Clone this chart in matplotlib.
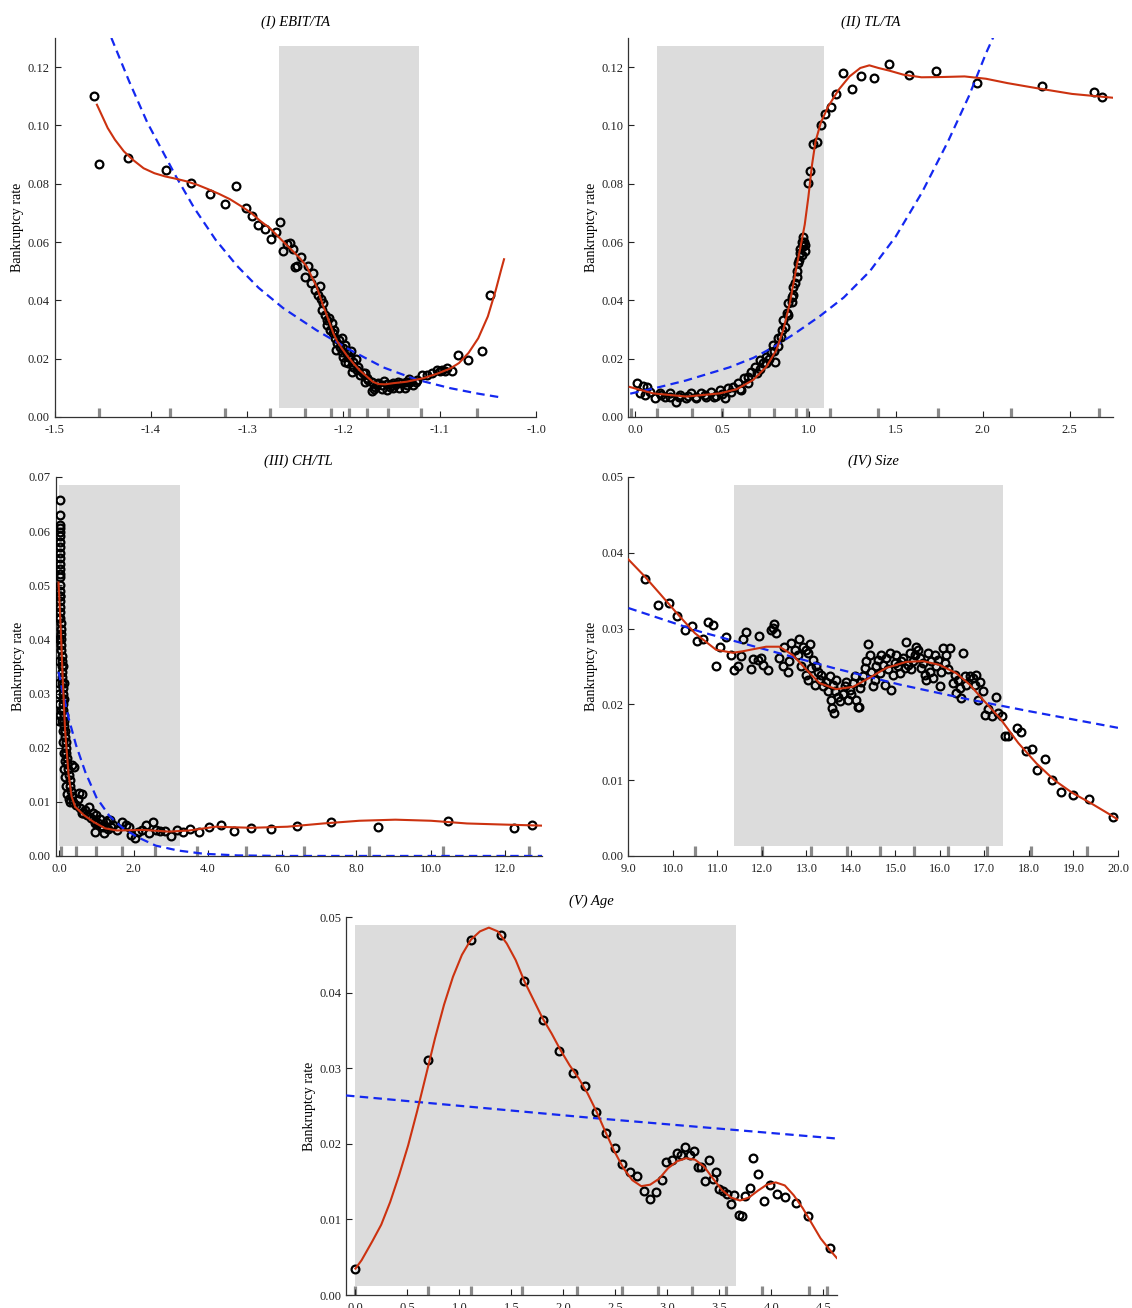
import numpy as np
import matplotlib
matplotlib.use("Agg")
import matplotlib.pyplot as plt

plt.rcParams['font.family'] = ['Liberation Serif', 'DejaVu Serif']
plt.rcParams['axes.unicode_minus'] = False

# ---------------- Panel I : EBIT/TA ----------------
p1_x = [-1.4586, -1.4541, -1.4235, -1.3843, -1.3582, -1.3384, -1.3235, -1.3116, -1.3015,
        -1.2953, -1.2883, -1.2814, -1.2755, -1.2700, -1.2658, -1.2624, -1.2582, -1.2555, -1.2520,
        -1.2444, -1.2503, -1.2478, -1.2364, -1.2319, -1.2399, -1.2340, -1.2243, -1.2295, -1.2260,
        -1.2236, -1.2208, -1.2226, -1.2191, -1.2167, -1.2122, -1.2174, -1.2139, -1.2105, -1.2087,
        -1.2063, -1.2035, -1.1983, -1.2018, -1.2001, -1.1966, -1.1931, -1.1949, -1.1897, -1.1914,
        -1.1862, -1.1828, -1.1776, -1.1741, -1.1706, -1.1672, -1.1637, -1.1603, -1.1551, -1.1516,
        -1.1481, -1.1429, -1.1360, -1.1343, -1.1308, -1.1274, -1.1239, -1.1187, -1.1135, -1.1083,
        -1.1031, -1.0979, -1.0927,
        -1.2150, -1.2100, -1.2050, -1.2000, -1.1950, -1.1900, -1.1850, -1.1800, -1.1750, -1.1700,
        -1.1650, -1.1600, -1.1550, -1.1500, -1.1450, -1.1400, -1.1350, -1.1300, -1.1250, -1.2080,
        -1.2020, -1.1980, -1.1920, -1.1870, -1.1780, -1.1680, -1.1580, -1.1480, -1.1420, -1.1320,
        -1.0996, -1.0940, -1.0877, -1.0806, -1.0705, -1.0560, -1.0474]
p1_y = [0.1102, 0.0869, 0.0889, 0.0848, 0.0801, 0.0765, 0.0729, 0.0793, 0.0718,
        0.0689, 0.0658, 0.0644, 0.0611, 0.0633, 0.0669, 0.0569, 0.0592, 0.0596, 0.0576,
        0.0550, 0.0516, 0.0519, 0.0519, 0.0495, 0.0479, 0.0459, 0.0449, 0.0436, 0.0419,
        0.0404, 0.0390, 0.0367, 0.0350, 0.0333, 0.0321, 0.0316, 0.0298, 0.0287, 0.0270,
        0.0253, 0.0241, 0.0247, 0.0224, 0.0207, 0.0219, 0.0207, 0.0184, 0.0173, 0.0156,
        0.0161, 0.0144, 0.0150, 0.0127, 0.0090, 0.0104, 0.0116, 0.0095, 0.0093, 0.0104,
        0.0116, 0.0121, 0.0099, 0.0110, 0.0121, 0.0110, 0.0127, 0.0144, 0.0144, 0.0150,
        0.0161, 0.0161, 0.0167,
        0.0340, 0.0300, 0.0265, 0.0235, 0.0205, 0.0190, 0.0170, 0.0150, 0.0135, 0.0120,
        0.0112, 0.0108, 0.0112, 0.0110, 0.0112, 0.0115, 0.0120, 0.0125, 0.0120, 0.0230,
        0.0270, 0.0190, 0.0225, 0.0200, 0.0120, 0.0095, 0.0125, 0.0098, 0.0100, 0.0130,
        0.0158, 0.0158, 0.0157, 0.0214, 0.0197, 0.0226, 0.0420]
p1_red_x = [-1.4560, -1.4504, -1.4448, -1.4373, -1.4280, -1.4187, -1.4075, -1.3963, -1.3851,
            -1.3739, -1.3627, -1.3515, -1.3403, -1.3291, -1.3179, -1.3067, -1.2955, -1.2866,
            -1.2762, -1.2624, -1.2520, -1.2451, -1.2381, -1.2330, -1.2278, -1.2243, -1.2208,
            -1.2174, -1.2139, -1.2105, -1.2063, -1.2018, -1.1959, -1.1897, -1.1828, -1.1758,
            -1.1696, -1.1637, -1.1568, -1.1481, -1.1343, -1.1170, -1.1031, -1.0892, -1.0800,
            -1.0700, -1.0600, -1.0500, -1.0418, -1.0362, -1.0332]
p1_red_y = [0.1071, 0.1031, 0.0991, 0.0951, 0.0911, 0.0882, 0.0853, 0.0836, 0.0825,
            0.0817, 0.0808, 0.0796, 0.0781, 0.0765, 0.0747, 0.0724, 0.0699, 0.0673,
            0.0647, 0.0601, 0.0567, 0.0544, 0.0516, 0.0481, 0.0447, 0.0413, 0.0379,
            0.0350, 0.0319, 0.0287, 0.0259, 0.0236, 0.0209, 0.0184, 0.0159, 0.0139,
            0.0121, 0.0113, 0.0112, 0.0116, 0.0121, 0.0133, 0.0148, 0.0166, 0.0185,
            0.0220, 0.0270, 0.0345, 0.0435, 0.0505, 0.0541]
p1_blue_x = [-1.441, -1.4224, -1.4037, -1.3739, -1.3552, -1.3328, -1.3104, -1.2881, -1.2624,
             -1.2277, -1.1931, -1.1585, -1.1239, -1.0893, -1.0600, -1.0343]
p1_blue_y = [0.130, 0.1150, 0.1010, 0.0825, 0.0718, 0.0608, 0.0518, 0.0443, 0.0373,
             0.0297, 0.0230, 0.0170, 0.0128, 0.0099, 0.0080, 0.0066]
p1_rug = [-1.4537, -1.380, -1.323, -1.276, -1.240, -1.213, -1.194, -1.176, -1.154, -1.119, -1.061]
p1_shade = (-1.267, -1.121)

# ---------------- Panel II : TL/TA ----------------
p2_x = [0.0094, 0.0440, 0.0670, 0.0248, 0.0536, 0.0824, 0.1112, 0.1400, 0.1688, 0.1977,
        0.2361, 0.2553, 0.2937, 0.3225, 0.3513, 0.3801, 0.4089, 0.4378, 0.4666, 0.4858,
        0.5146, 0.5338, 0.5626, 0.5914, 0.6106, 0.6241, 0.6490, 0.6683, 0.6875, 0.7163,
        0.7355, 0.7547, 0.7835, 0.8027, 0.7931, 0.8220, 0.8412, 0.8508, 0.8700, 0.8796,
        0.8988, 0.9084, 0.9276, 0.9372, 0.9468, 0.9564, 0.9661, 0.9757,
        0.15, 0.20, 0.25, 0.30, 0.35, 0.40, 0.45, 0.50, 0.55, 0.60, 0.65, 0.70, 0.72, 0.75,
        0.77, 0.80, 0.82, 0.84, 0.86, 0.88, 0.90, 0.91, 0.92, 0.93, 0.94, 0.95, 0.96, 0.97,
        0.965, 0.975,
        0.992, 1.008, 1.025, 1.045, 1.066, 1.093, 1.126, 1.157, 1.198, 1.246, 1.300, 1.372,
        1.459, 1.574, 1.733, 1.965, 2.339, 2.643, 2.688]
p2_y = [0.0116, 0.0107, 0.0104, 0.0081, 0.0076, 0.0084, 0.0064, 0.0081, 0.0070, 0.0081,
        0.0053, 0.0076, 0.0064, 0.0081, 0.0070, 0.0081, 0.0070, 0.0087, 0.0072, 0.0093,
        0.0064, 0.0098, 0.0104, 0.0116, 0.0093, 0.0133, 0.0138, 0.0156, 0.0173, 0.0196,
        0.0184, 0.0207, 0.0224, 0.0190, 0.0247, 0.0270, 0.0298, 0.0333, 0.0356, 0.0390,
        0.0413, 0.0447, 0.0481, 0.0527, 0.0561, 0.0601, 0.0618, 0.0590,
        0.0075, 0.0070, 0.0068, 0.0072, 0.0066, 0.0075, 0.0070, 0.0078, 0.0085, 0.0095,
        0.0115, 0.0150, 0.0165, 0.0185, 0.0200, 0.0225, 0.0245, 0.0275, 0.0310, 0.0350,
        0.0395, 0.0420, 0.0460, 0.0500, 0.0540, 0.0575, 0.0555, 0.0600, 0.0585, 0.0570,
        0.0804, 0.0842, 0.0937, 0.0942, 0.1001, 0.1038, 0.1062, 0.1108, 0.1181, 0.1126,
        0.1170, 0.1162, 0.1212, 0.1174, 0.1187, 0.1144, 0.1135, 0.1113, 0.1097]
p2_red_x = [-0.033, 0.101, 0.294, 0.486, 0.582, 0.678, 0.755, 0.812, 0.851, 0.889, 0.928,
            0.956, 0.975, 0.996, 1.017, 1.037, 1.068, 1.110, 1.171, 1.233, 1.295, 1.347,
            1.399, 1.461, 1.543, 1.647, 1.771, 1.895, 2.019, 2.143, 2.308, 2.514, 2.748]
p2_red_y = [0.0103, 0.0081, 0.0070, 0.0081, 0.0095, 0.0127, 0.0173, 0.0230, 0.0298, 0.0390,
            0.0516, 0.0600, 0.0660, 0.0755, 0.0865, 0.0945, 0.1010, 0.1065, 0.1123, 0.1168,
            0.1197, 0.1206, 0.1197, 0.1188, 0.1174, 0.1165, 0.1166, 0.1168, 0.1160, 0.1145,
            0.1128, 0.1108, 0.1095]
p2_blue_x = [-0.03, 0.12, 0.29, 0.54, 0.68, 0.79, 0.91, 1.06, 1.20, 1.35, 1.50, 1.65, 1.80,
             1.92, 2.02, 2.15]
p2_blue_y = [0.0080, 0.0100, 0.0125, 0.0170, 0.0203, 0.0238, 0.0283, 0.0345, 0.0410, 0.0500,
             0.0620, 0.0770, 0.0945, 0.1100, 0.1249, 0.1420]
p2_rug = [-0.023, 0.124, 0.326, 0.50, 0.655, 0.797, 0.926, 0.986, 1.122, 1.395, 1.742, 2.165, 2.669]
p2_shade = (0.124, 1.087)

# ---------------- Panel III : CH/TL ----------------
p3_x = [0.01, 0.01, 0.01, 0.01, 0.01, 0.01, 0.01, 0.01, 0.01, 0.01, 0.01, 0.01, 0.01,
        0.02, 0.02, 0.02, 0.02, 0.03, 0.03, 0.03, 0.04, 0.04, 0.04, 0.05, 0.05, 0.05, 0.06,
        0.06, 0.07, 0.07, 0.08, 0.08, 0.09, 0.09, 0.10, 0.11, 0.11, 0.12, 0.13, 0.14, 0.15,
        0.16, 0.17, 0.18, 0.19, 0.21, 0.22, 0.24, 0.26, 0.28, 0.30, 0.32, 0.35, 0.38,
        -0.02, -0.01, 0.0, 0.0, -0.02, 0.0, 0.02, 0.03, 0.0, 0.01,
        0.10, 0.12, 0.13, 0.05, 0.07, 0.09, 0.11, 0.13, 0.15, 0.336, 0.40, 0.12, 0.15, 0.18,
        0.22, 0.25, 0.28,
        0.45, 0.50, 0.543, 0.55, 0.60, 0.62, 0.65, 0.70, 0.75, 0.80, 0.85, 0.90, 0.95, 0.965,
        1.00, 1.05, 1.10, 1.15, 1.19, 1.25, 1.30, 1.37, 1.45,
        0.968, 1.209, 1.306, 1.403, 1.548, 1.693, 1.790, 1.867, 1.935, 2.032, 2.109, 2.225,
        2.322, 2.419, 2.516, 2.612, 2.709, 2.854, 3.000, 3.164, 3.338,
        3.53, 3.77, 4.03, 4.35, 4.71, 5.16, 5.71, 6.40, 7.32, 8.59, 10.47, 12.24, 12.72]
p3_y = [0.0658, 0.0630, 0.0612, 0.0605, 0.0598, 0.0590, 0.0580, 0.0570, 0.0560, 0.0550,
        0.0540, 0.0530, 0.0515, 0.0500, 0.0490, 0.0480, 0.0470, 0.0460, 0.0450, 0.0440,
        0.0430, 0.0420, 0.0410, 0.0400, 0.0390, 0.0380, 0.0370, 0.0360, 0.0350, 0.0340,
        0.0330, 0.0320, 0.0310, 0.0300, 0.0290, 0.0280, 0.0270, 0.0260, 0.0250, 0.0240,
        0.0230, 0.0220, 0.0210, 0.0200, 0.0190, 0.0180, 0.0170, 0.0160, 0.0150, 0.0140,
        0.0130, 0.0120, 0.0110, 0.0100,
        0.0440, 0.0400, 0.0360, 0.0320, 0.0280, 0.0250, 0.0520, 0.0480, 0.0300, 0.0260,
        0.0350, 0.0320, 0.0290, 0.0270, 0.0250, 0.0230, 0.0210, 0.0190, 0.0175, 0.0168,
        0.0165, 0.0160, 0.0145, 0.0130, 0.0115, 0.0105, 0.0100,
        0.0095, 0.0105, 0.0117, 0.0088, 0.0115, 0.0080, 0.0079, 0.0085, 0.0075, 0.0090,
        0.0070, 0.0080, 0.0065, 0.0060, 0.0075, 0.0060, 0.0068, 0.0055, 0.0054, 0.0062,
        0.0050, 0.0067, 0.0058,
        0.0045, 0.0043, 0.0067, 0.0054, 0.0048, 0.0062, 0.0057, 0.0054, 0.0039, 0.0033,
        0.0045, 0.0048, 0.0057, 0.0042, 0.0062, 0.0048, 0.0046, 0.0046, 0.0037, 0.0048,
        0.0045,
        0.0049, 0.0044, 0.0053, 0.0057, 0.0047, 0.0051, 0.0050, 0.0056, 0.0062, 0.0053,
        0.0065, 0.0052, 0.0057]
p3_red_x = [-0.02, 0.040, 0.093, 0.156, 0.246, 0.330, 0.426, 0.650, 0.920, 1.235, 1.549,
            2.27, 2.95, 3.5, 4.21, 5.18, 6.14, 7.11, 8.08, 9.05, 10.01, 10.98, 11.95, 13.0]
p3_red_y = [0.0505, 0.0418, 0.0326, 0.0233, 0.0153, 0.0110, 0.0091, 0.0076, 0.0063, 0.0051,
            0.0047, 0.0048, 0.0045, 0.0047, 0.0054, 0.0052, 0.0054, 0.0060, 0.0065, 0.0067,
            0.0065, 0.0060, 0.0058, 0.0056]
p3_blue_x = [-0.02, 0.10, 0.25, 0.45, 0.70, 1.00, 1.35, 1.70, 2.10, 2.60, 3.20, 3.90, 4.80,
             6.00, 8.00, 13.0]
p3_blue_y = [0.0340, 0.0300, 0.0255, 0.0205, 0.0155, 0.0108, 0.0074, 0.0052, 0.0035, 0.0019,
             0.0010, 0.0004, 0.0001, 0.0, 0.0, 0.0]
p3_rug = [0.05, 0.46, 1.0, 1.69, 2.59, 3.71, 5.03, 6.58, 8.34, 10.33, 12.65]
p3_shade = (0.0, 3.24)

# ---------------- Panel IV : Size ----------------
p4_x = [9.363, 9.662, 9.905, 10.09, 10.27, 10.43, 10.55,
        10.780, 10.893, 10.668, 11.058, 11.193, 11.306, 10.968, 11.381, 11.456, 11.531, 11.568,
        11.643, 11.756, 11.793, 11.906, 11.981, 11.943, 12.018, 12.131, 12.206, 12.281, 12.318,
        12.243, 12.393, 12.468, 12.506, 12.581, 12.618, 12.656, 12.731, 12.843, 12.806, 12.881,
        12.918, 12.993, 13.031, 13.068, 13.143, 13.106, 12.993, 13.031, 13.218, 13.256, 13.293,
        13.331, 13.181, 13.368, 13.443, 13.481, 13.518, 13.556, 13.593, 13.631, 13.668, 13.706,
        13.743, 13.818, 13.856, 13.893, 13.931, 13.968, 14.006, 14.043, 14.081, 14.118, 14.156,
        14.193, 14.231, 14.268, 14.306, 14.343, 14.381, 14.418, 14.456, 14.493, 14.531, 14.568,
        14.606, 14.643, 14.681, 14.718, 14.756, 14.793, 14.831, 14.868, 14.906, 14.943, 14.981,
        15.018, 15.056, 15.093, 15.131, 15.168, 15.206, 15.243, 15.281, 15.318, 15.356, 15.393,
        15.431, 15.468, 15.506, 15.543, 15.581, 15.618, 15.656, 15.693, 15.731, 15.768, 15.806,
        15.843, 15.881, 15.918, 15.956, 15.993, 16.031, 16.068, 16.106, 16.143, 16.181, 16.218,
        16.293, 16.331, 16.368, 16.406, 16.443, 16.481, 16.518, 16.556, 16.593, 16.668, 16.743,
        16.781, 16.818, 16.856, 16.893, 16.968, 13.62, 13.57, 14.18,
        17.01, 17.08, 17.18, 17.25, 17.30, 17.40, 17.47, 17.54, 17.72, 17.83, 17.93, 18.06,
        18.18, 18.35, 18.52, 18.73, 18.99, 19.34, 19.88]
p4_y = [0.0365, 0.0331, 0.0334, 0.0316, 0.0298, 0.0303, 0.0284,
        0.0308, 0.0304, 0.0286, 0.0276, 0.0289, 0.0265, 0.0250, 0.0245, 0.0250, 0.0264, 0.0286,
        0.0296, 0.0247, 0.0260, 0.0259, 0.0261, 0.0290, 0.0252, 0.0245, 0.0298, 0.0306, 0.0294,
        0.0301, 0.0261, 0.0251, 0.0276, 0.0243, 0.0257, 0.0281, 0.0272, 0.0286, 0.0265, 0.0251,
        0.0276, 0.0272, 0.0268, 0.0279, 0.0259, 0.0248, 0.0239, 0.0232, 0.0250, 0.0243, 0.0232,
        0.0239, 0.0226, 0.0224, 0.0230, 0.0217, 0.0237, 0.0206, 0.0226, 0.0217, 0.0232, 0.0210,
        0.0204, 0.0213, 0.0224, 0.0230, 0.0206, 0.0219, 0.0213, 0.0228, 0.0237, 0.0206, 0.0197,
        0.0221, 0.0230, 0.0237, 0.0248, 0.0257, 0.0280, 0.0265, 0.0243, 0.0224, 0.0232, 0.0250,
        0.0259, 0.0241, 0.0265, 0.0252, 0.0226, 0.0261, 0.0246, 0.0268, 0.0219, 0.0239, 0.0254,
        0.0265, 0.0250, 0.0241, 0.0257, 0.0261, 0.0248, 0.0282, 0.0252, 0.0268, 0.0246, 0.0257,
        0.0265, 0.0276, 0.0272, 0.0261, 0.0248, 0.0254, 0.0239, 0.0232, 0.0268, 0.0243, 0.0257,
        0.0235, 0.0265, 0.0250, 0.0259, 0.0224, 0.0243, 0.0274, 0.0254, 0.0265, 0.0246, 0.0274,
        0.0228, 0.0239, 0.0215, 0.0232, 0.0221, 0.0208, 0.0268, 0.0237, 0.0226, 0.0237, 0.0235,
        0.0226, 0.0239, 0.0206, 0.0230, 0.0217, 0.0188, 0.0195, 0.0196,
        0.0186, 0.0194, 0.0184, 0.0210, 0.0188, 0.0184, 0.0158, 0.0158, 0.0169, 0.0163, 0.0138,
        0.0141, 0.0114, 0.0128, 0.0100, 0.0084, 0.0081, 0.0075, 0.0052]
p4_red_x = [9.0, 9.36, 9.69, 10.09, 10.49, 10.968, 11.343, 11.568, 12.093, 12.393, 12.693,
            12.993, 13.293, 13.668, 14.043, 14.418, 14.793, 15.243, 15.618, 15.993, 16.368,
            16.668, 16.968, 17.343, 17.76, 18.17, 18.57, 18.98, 19.38, 19.78, 20.0]
p4_red_y = [0.0391, 0.0369, 0.0347, 0.0320, 0.0294, 0.0272, 0.0268, 0.0270, 0.0276, 0.0276,
            0.0265, 0.0246, 0.0228, 0.0220, 0.0223, 0.0235, 0.0248, 0.0256, 0.0257, 0.0252,
            0.0241, 0.0226, 0.0206, 0.0182, 0.0149, 0.0122, 0.0100, 0.0083, 0.0070, 0.0056,
            0.0048]
p4_blue_x = [9.0, 10.6, 12.1, 13.6, 15.1, 16.6, 18.0, 20.0]
p4_blue_y = [0.0327, 0.0296, 0.0272, 0.0248, 0.0226, 0.0207, 0.0191, 0.0169]
p4_rug = [10.49, 12.0, 13.10, 13.91, 14.66, 15.42, 16.19, 17.05, 18.05, 19.31]
p4_shade = (11.37, 17.42)

# ---------------- Panel V : Age ----------------
p5_x = [0.0, 0.700, 1.110, 1.400, 1.621, 1.803, 1.959, 2.090, 2.210, 2.317, 2.410, 2.500,
        2.565, 2.641, 2.705, 2.773, 2.834, 2.891, 2.946, 2.987, 3.045, 3.090, 3.131, 3.173,
        3.218, 3.259, 3.291, 3.323, 3.365, 3.397, 3.435, 3.468, 3.500, 3.538, 3.570, 3.612,
        3.644, 3.685, 3.717, 3.746, 3.794, 3.826, 3.871, 3.925, 3.986, 4.050, 4.130, 4.236,
        4.348, 4.566]
p5_y = [0.0034, 0.0311, 0.0470, 0.0476, 0.0415, 0.0364, 0.0323, 0.0294, 0.0276, 0.0242,
        0.0215, 0.0194, 0.0174, 0.0163, 0.0157, 0.0138, 0.0127, 0.0136, 0.0152, 0.0176,
        0.0179, 0.0188, 0.0185, 0.0196, 0.0185, 0.0190, 0.0170, 0.0170, 0.0151, 0.0178,
        0.0154, 0.0163, 0.0140, 0.0138, 0.0134, 0.0121, 0.0132, 0.0106, 0.0104, 0.0131,
        0.0141, 0.0181, 0.0160, 0.0125, 0.0146, 0.0133, 0.0130, 0.0122, 0.0104, 0.0062]
p5_red_x = [0.0, 0.059, 0.162, 0.248, 0.334, 0.421, 0.507, 0.593, 0.679, 0.766, 0.852, 0.938,
            1.024, 1.110, 1.197, 1.283, 1.369, 1.455, 1.541, 1.628, 1.714, 1.800, 1.886, 1.972,
            2.059, 2.145, 2.231, 2.317, 2.403, 2.490, 2.576, 2.662, 2.748, 2.834, 2.921, 3.007,
            3.093, 3.179, 3.266, 3.352, 3.438, 3.524, 3.610, 3.697, 3.783, 3.869, 3.955, 4.041,
            4.128, 4.214, 4.300, 4.386, 4.472, 4.559, 4.628]
p5_red_y = [0.0035, 0.0046, 0.0071, 0.0093, 0.0123, 0.0159, 0.0198, 0.0243, 0.0291, 0.0340,
            0.0384, 0.0421, 0.0450, 0.0470, 0.0481, 0.0486, 0.0481, 0.0465, 0.0443, 0.0414,
            0.0390, 0.0366, 0.0346, 0.0324, 0.0304, 0.0287, 0.0267, 0.0243, 0.0216, 0.0190,
            0.0168, 0.0152, 0.0144, 0.0146, 0.0154, 0.0168, 0.0177, 0.0181, 0.0179, 0.0170,
            0.0154, 0.0139, 0.0129, 0.0125, 0.0129, 0.0138, 0.0146, 0.0149, 0.0145, 0.0132,
            0.0115, 0.0095, 0.0075, 0.0060, 0.0049]
p5_blue_x = [-0.09, 2.30, 4.63]
p5_blue_y = [0.0264, 0.0234, 0.0207]
p5_rug = [0.0, 0.70, 1.11, 1.60, 2.13, 2.56, 2.91, 3.24, 3.56, 3.91, 4.36, 4.53]
p5_shade = (0.0, 3.655)

titles = ['(I) EBIT/TA', '(II) TL/TA', '(III) CH/TL', '(IV) Size', '(V) Age']

RED = '#cc3210'
BLUE = '#1428f0'
SHADE = '#dcdcdc'
RUG = '#8a8a8a'

fig = plt.figure(figsize=(11.32, 13.08), dpi=100)

rects = [
    [0.0482, 0.6812, 0.4253, 0.2898],
    [0.5552, 0.6812, 0.4280, 0.2898],
    [0.0491, 0.3456, 0.4297, 0.2898],
    [0.5552, 0.3456, 0.4324, 0.2898],
    [0.3057, 0.0099, 0.4337, 0.2890],
]
xlims = [(-1.5, -1.0), (-0.04, 2.75), (-0.1, 13.0), (9.0, 20.0), (-0.09, 4.63)]
ylims = [(0, 0.13), (0, 0.13), (0, 0.07), (0, 0.05), (0, 0.05)]
xticks = [np.arange(-1.5, -0.99, 0.1), np.arange(0, 2.51, 0.5), np.arange(0, 12.1, 2.0),
          np.arange(9, 20.1, 1.0), np.arange(0, 4.51, 0.5)]
yticks = [np.arange(0, 0.121, 0.02), np.arange(0, 0.121, 0.02), np.arange(0, 0.071, 0.01),
          np.arange(0, 0.051, 0.01), np.arange(0, 0.051, 0.01)]
xfmt = ['%.1f'] * 5
yfmt = ['%.2f'] * 5

scat = [(p1_x, p1_y), (p2_x, p2_y), (p3_x, p3_y), (p4_x, p4_y), (p5_x, p5_y)]
reds = [(p1_red_x, p1_red_y), (p2_red_x, p2_red_y), (p3_red_x, p3_red_y),
        (p4_red_x, p4_red_y), (p5_red_x, p5_red_y)]
blues = [(p1_blue_x, p1_blue_y), (p2_blue_x, p2_blue_y), (p3_blue_x, p3_blue_y),
         (p4_blue_x, p4_blue_y), (p5_blue_x, p5_blue_y)]
rugs = [p1_rug, p2_rug, p3_rug, p4_rug, p5_rug]
shades = [p1_shade, p2_shade, p3_shade, p4_shade, p5_shade]

for i in range(5):
    ax = fig.add_axes(rects[i])
    ax.set_xlim(*xlims[i])
    ax.set_ylim(*ylims[i])
    ax.axvspan(shades[i][0], shades[i][1], ymin=0.025, ymax=0.978, color=SHADE, lw=0, zorder=0)
    ax.vlines(rugs[i], 0, 0.025, transform=ax.get_xaxis_transform(), colors=RUG,
              linewidth=2.3, zorder=1, clip_on=False)
    ax.plot(scat[i][0], scat[i][1], 'o', mfc='none', mec='black', ms=5.6, mew=1.6, zorder=3)
    ax.plot(blues[i][0], blues[i][1], color=BLUE, lw=1.6, dashes=(3.8, 2.4), zorder=4)
    ax.plot(reds[i][0], reds[i][1], color=RED, lw=1.5, zorder=5, solid_joinstyle='round')
    ax.set_xticks(xticks[i])
    ax.set_xticklabels([xfmt[i] % v for v in xticks[i]])
    ax.set_yticks(yticks[i])
    ax.set_yticklabels([yfmt[i] % v for v in yticks[i]])
    for s in ['top', 'right']:
        ax.spines[s].set_visible(False)
    for s in ['left', 'bottom']:
        ax.spines[s].set_color('#333333')
        ax.spines[s].set_linewidth(0.9)
    ax.tick_params(direction='in', length=4, width=0.8, labelsize=9, colors='#222222')
    ax.tick_params(axis='x', pad=5)
    ax.set_ylabel('Bankruptcy rate', fontsize=10, labelpad=2.5)
    ax.set_title(titles[i], style='italic', fontsize=10.5, pad=9)
    ax.patch.set_alpha(0)

fig.savefig('out.png', dpi=100)
